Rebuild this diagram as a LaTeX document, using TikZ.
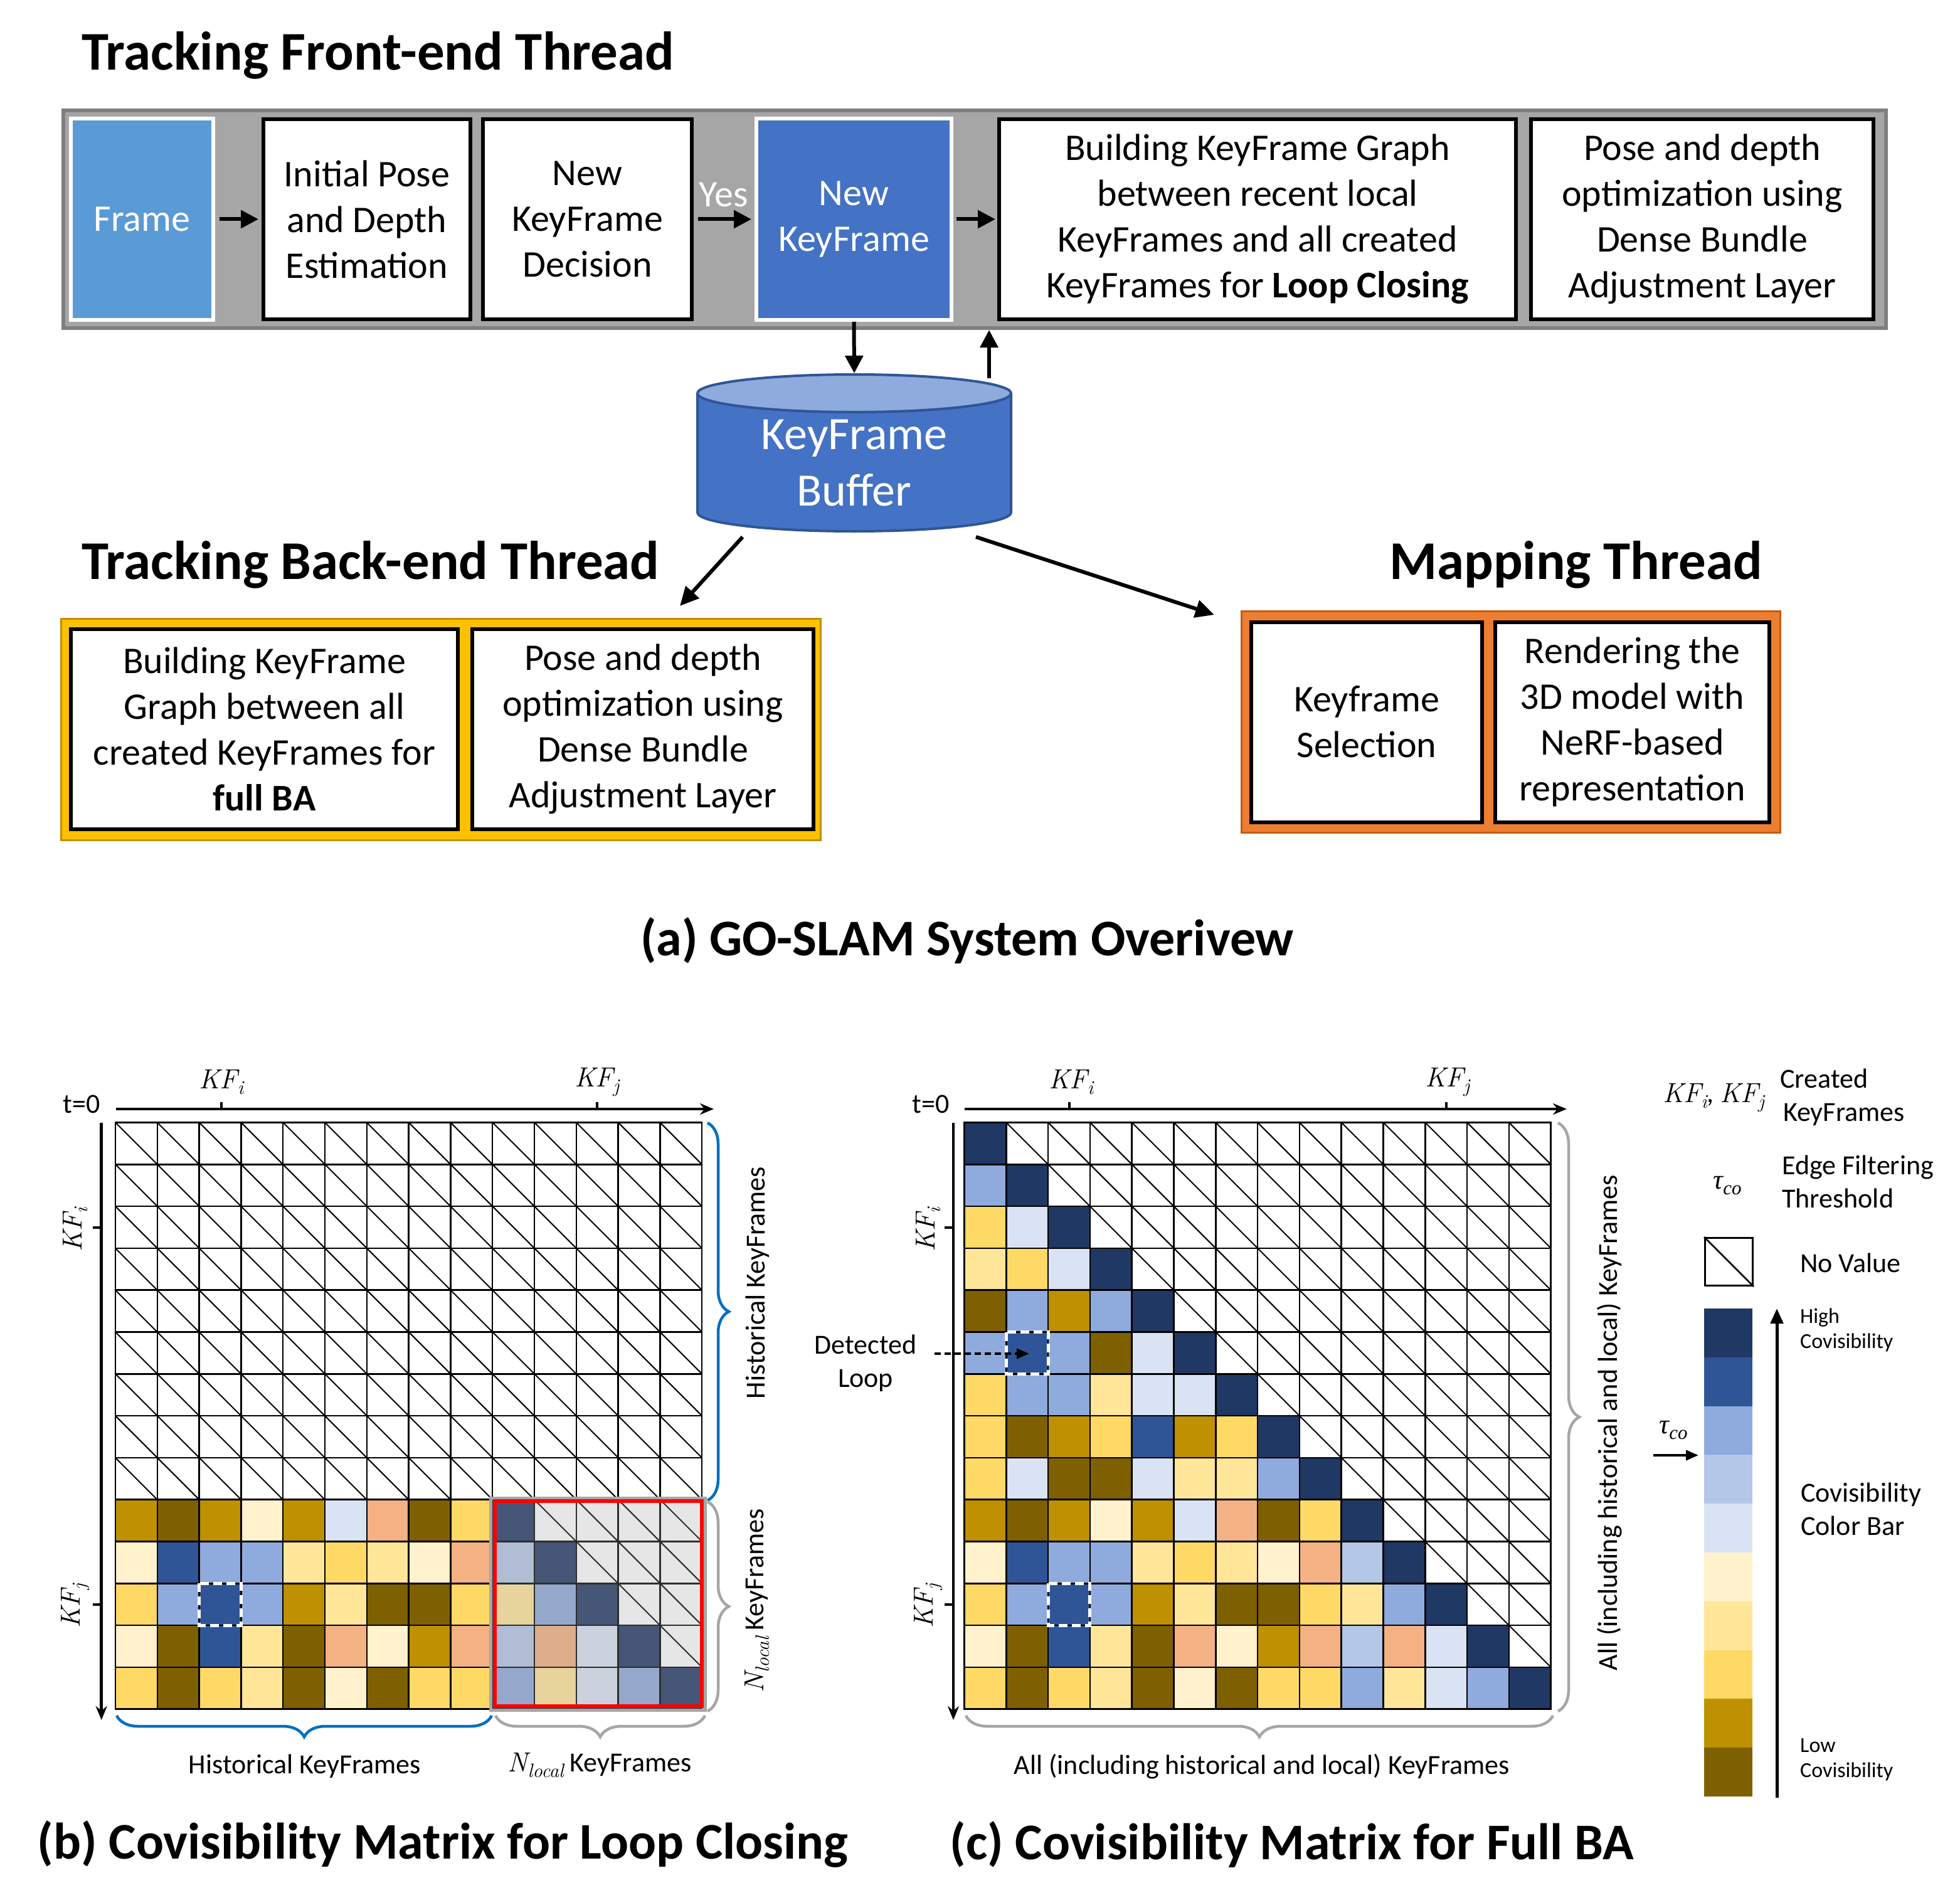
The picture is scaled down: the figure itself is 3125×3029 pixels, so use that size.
\documentclass[tikz,border=0pt]{standalone}
\usepackage{fontspec}
\setmainfont{Carlito}
\newfontfamily\lmfam{Latin Modern Roman}
\newfontfamily\grfam{Liberation Serif}
\newcommand\mysub[1]{\raisebox{-0.22em}{\fontsize{31}{31}\selectfont #1}}
\newcommand\kfi{{\lmfam\itshape KF\mysub{i}}}
\newcommand\kfj{{\lmfam\itshape KF\mysub{j}}}
\newcommand\nloc{{\lmfam\itshape N\mysub{local}}}
\newcommand\tauco{{\grfam\itshape τ\mysub{co}}}
\usetikzlibrary{arrows.meta,decorations.pathreplacing}

\definecolor{cN}{HTML}{203864}
\definecolor{cB}{HTML}{2F5597}
\definecolor{cM}{HTML}{8FAADC}
\definecolor{cS}{HTML}{B4C7E7}
\definecolor{cV}{HTML}{DAE3F3}
\definecolor{cW}{HTML}{FFF2CC}
\definecolor{cL}{HTML}{FFE699}
\definecolor{cY}{HTML}{FFD966}
\definecolor{cG}{HTML}{BF9000}
\definecolor{cD}{HTML}{7F6000}
\definecolor{cO}{HTML}{F4B183}
\definecolor{cX}{HTML}{FFFFFF}
\definecolor{bandgray}{HTML}{A6A6A6}
\definecolor{bandedge}{HTML}{7F7F7F}
\definecolor{framefill}{HTML}{5B9BD5}
\definecolor{kffill}{HTML}{4472C4}
\definecolor{cyltop}{HTML}{8FAADC}
\definecolor{cyledge}{HTML}{2F5597}
\definecolor{yelfr}{HTML}{FFC000}
\definecolor{yeledge}{HTML}{BF9000}
\definecolor{orfr}{HTML}{ED7D31}
\definecolor{oredge}{HTML}{C55A11}
\definecolor{braceblue}{HTML}{0070C0}
\definecolor{bracegray}{HTML}{A6A6A6}
\definecolor{laygray}{HTML}{A6A6A6}

\tikzset{
  boxtext/.style={font=\fontsize{60}{73}\selectfont},
  box/.style={draw=black, line width=6pt, fill=white, align=center, inner sep=0pt, boxtext},
  bluebox/.style={draw=white, line width=6pt, align=center, inner sep=0pt, text=white, boxtext},
  titletext/.style={font=\fontsize{82}{98}\selectfont\bfseries, inner sep=0pt},
  threadtitle/.style={font=\fontsize{87}{104}\selectfont\bfseries, inner sep=0pt},
  flow/.style={line width=6pt, -{Triangle[length=28pt,width=28pt]}},
  diagarrow/.style={line width=6pt, -{Triangle[length=30pt,width=28pt]}},
  lbl/.style={font=\fontsize{44}{53}\selectfont, inner sep=0pt},
  small/.style={font=\fontsize{34}{40}\selectfont, inner sep=0pt, align=left},
  gridln/.style={line width=2.5pt, line cap=rect},
  diagln/.style={line width=2pt},
  axisln/.style={line width=4.5pt, -{Stealth[length=22pt,width=18pt]}},
  tickln/.style={line width=4.5pt},
  dashsq/.style={draw=white, line width=5pt, dash pattern=on 14pt off 7pt},
  bracestyle/.style={decorate, decoration={brace, amplitude=34pt}, line width=4.5pt},
}

\begin{document}
\begin{tikzpicture}[x=1pt,y=-1pt]
\useasboundingbox (0,0) rectangle (3125,3029);
\fill[white] (0,0) rectangle (3125,3029);

% ---------------- (a) overview ----------------
\node[threadtitle, anchor=west] (t1) at (130,88) {Tracking Front-end Thread};

\node[draw=bandedge, fill=bandgray, line width=6pt, minimum width=2906, minimum height=347, inner sep=0pt] (band) at (1554,349.5) {};

\node[bluebox, fill=framefill, minimum width=227, minimum height=321] (frame) at (226.5,349.5) {Frame};
\node[box, minimum width=330, minimum height=319] (init) at (585,349.5) {Initial Pose\\and Depth\\Estimation};
\node[box, minimum width=333, minimum height=319] (dec) at (936.5,349.5) {New\\KeyFrame\\Decision};
\node[bluebox, fill=kffill, minimum width=311, minimum height=321] (newkf) at (1361.5,349.5) {New\\KeyFrame};
\node[box, minimum width=824, minimum height=319] (graph) at (2005,349.5) {Building KeyFrame Graph\\between recent local\\KeyFrames and all created\\KeyFrames for \textbf{Loop Closing}};
\node[box, minimum width=546, minimum height=319] (pba) at (2714,349.5) {Pose and depth\\optimization using\\Dense Bundle\\Adjustment Layer};

\draw[flow, shorten <=7pt, shorten >=5pt] (frame.east) -- (init.west);
\draw[flow, shorten <=7pt, shorten >=5pt] (dec.east) -- (newkf.west);
\node[boxtext, text=white, inner sep=0pt] (yes) at (1154,310) {Yes};
\draw[flow, shorten <=5pt, shorten >=3pt] (newkf.east) -- (graph.west);

% cylinder
\fill[kffill] (1112,627) -- (1112,817) arc[start angle=180, end angle=0, x radius=250, y radius=30] -- (1612,627) -- cycle;
\draw[cyledge, line width=4pt] (1112,627) -- (1112,817) arc[start angle=180, end angle=0, x radius=250, y radius=30] -- (1612,627);
\draw[cyledge, line width=4pt, fill=cyltop] (1362,627) ellipse[x radius=250, y radius=30];
\node[minimum width=500, minimum height=250, inner sep=0pt, outer sep=0pt] (buf) at (1362,722) {};
\node[font=\fontsize{74}{90}\selectfont, text=white, align=center, inner sep=0pt] (buftext) at (1362,738) {KeyFrame\\Buffer};

\draw[flow, shorten >=2pt] (newkf.south) -- (buf.north);
\draw[flow] ([xshift=215pt,yshift=-6pt]buf.north) -- ([xshift=215pt]buf.north |- band.south);

\node[threadtitle, anchor=west] (t2) at (130,900) {Tracking Back-end Thread};
\node[threadtitle, anchor=east] (t3) at (2810,900) {Mapping Thread};

\coordinate (backin) at (1084,966);
\coordinate (mapin) at (1936,980);
\draw[diagarrow] ([shift={(-178pt,-9pt)}]buf.south) -- (backin);
\draw[diagarrow] ([shift={(194pt,-9pt)}]buf.south) -- (mapin);

\node[draw=yeledge, fill=yelfr, line width=3pt, minimum width=1211, minimum height=353, inner sep=0pt] (back) at (703,1163) {};
\node[box, minimum width=617, minimum height=319] (fullg) at (421.5,1162.5) {Building KeyFrame\\Graph between all\\created KeyFrames for\\\textbf{full BA}};
\node[box, minimum width=544, minimum height=319] (bba) at (1025,1162.5) {Pose and depth\\optimization using\\Dense Bundle\\Adjustment Layer};

\node[draw=oredge, fill=orfr, line width=3pt, minimum width=859, minimum height=353, inner sep=0pt] (map) at (2409,1151) {};
\node[box, minimum width=368, minimum height=319] (ksel) at (2179,1151) {Keyframe\\Selection};
\node[box, minimum width=437, minimum height=319] (rend) at (2602.5,1151) {Rendering the\\3D model with\\NeRF-based\\representation};

\node[titletext] (capa) at (1542,1500) {(a) GO-SLAM System Overivew};

% ---------------- (b) matrix ----------------
\def\csz{66.8}
\def\ox{184}\def\oy{1789.5}
\foreach \rowlist [count=\rw] in {
{X,X,X,X,X,X,X,X,X,X,X,X,X,X},
{X,X,X,X,X,X,X,X,X,X,X,X,X,X},
{X,X,X,X,X,X,X,X,X,X,X,X,X,X},
{X,X,X,X,X,X,X,X,X,X,X,X,X,X},
{X,X,X,X,X,X,X,X,X,X,X,X,X,X},
{X,X,X,X,X,X,X,X,X,X,X,X,X,X},
{X,X,X,X,X,X,X,X,X,X,X,X,X,X},
{X,X,X,X,X,X,X,X,X,X,X,X,X,X},
{X,X,X,X,X,X,X,X,X,X,X,X,X,X},
{G,D,G,W,G,V,O,D,Y,N,X,X,X,X},
{W,B,M,M,L,Y,L,W,O,S,N,X,X,X},
{Y,M,B,M,G,L,D,D,Y,L,M,N,X,X},
{W,D,B,L,D,O,W,G,O,S,O,V,N,X},
{Y,D,Y,L,D,W,D,Y,Y,M,L,V,M,N}}{
  \foreach \code [count=\cc] in \rowlist {
    \fill[fill=c\code] ({\ox+(\cc-1)*\csz},{\oy+(\rw-1)*\csz}) rectangle ++(\csz,\csz);
  }
}
\foreach \rw in {1,...,9} {
  \foreach \cc in {1,...,14} {
    \draw[diagln] ({\ox+(\cc-1)*\csz},{\oy+(\rw-1)*\csz}) -- ++(\csz,\csz);
  }
}
\foreach \rw in {10,...,13} {
  \pgfmathtruncatemacro\rr{\rw+1}
  \foreach \cc in {\rr,...,14} {
    \draw[diagln] ({\ox+(\cc-1)*\csz},{\oy+(\rw-1)*\csz}) -- ++(\csz,\csz);
  }
}
\foreach \i in {0,...,14} {
  \draw[gridln] ({\ox+\i*\csz},\oy) -- ({\ox+\i*\csz},{\oy+14*\csz});
  \draw[gridln] (\ox,{\oy+\i*\csz}) -- ({\ox+14*\csz},{\oy+\i*\csz});
}
\fill[fill=laygray, opacity=0.28] ({\ox+9*\csz},{\oy+9*\csz}) rectangle ({\ox+14*\csz},{\oy+14*\csz});
\draw[laygray, line width=5pt] (782,2388) rectangle (1124,2726);
\draw[red, line width=6pt] (789,2393) rectangle (1119,2720);
\draw[dashsq] ({\ox+2*\csz},{\oy+11*\csz}) rectangle ++(\csz,\csz);

% axes b
\coordinate (bx0) at (185,1768);
\coordinate (bx1) at (1138,1768);
\coordinate (by0) at (161.7,1790);
\coordinate (by1) at (161.7,2742);
\draw[axisln] (bx0) -- (bx1);
\draw[axisln] (by0) -- (by1);
\draw[tickln] (353,1768) -- (353,1757);
\draw[tickln] (952,1768) -- (952,1757);
\draw[tickln] (161.7,1957) -- (148,1957);
\draw[tickln] (161.7,2558) -- (148,2558);
\node[lbl, anchor=east] (bt0) at (160,1760) {t=0};
\node[lbl] (bkfi) at (353,1725) {\kfi};
\node[lbl] (bkfj) at (952,1725) {\kfj};
\node[lbl, rotate=90] (bkfi2) at (120,1960) {\kfi};
\node[lbl, rotate=90] (bkfj2) at (120,2560) {\kfj};

\draw[bracestyle, braceblue] (1128,1790) -- (1128,2392);
\draw[bracestyle, bracegray] (1128,2394) -- (1128,2728);
\draw[bracestyle, braceblue] (784,2735) -- (186,2735);
\draw[bracestyle, bracegray] (1124,2735) -- (790,2735);
\node[lbl, rotate=90] (bhist) at (1208,2045) {Historical KeyFrames};
\node[lbl, rotate=90] (bloc) at (1207,2552) {\nloc{} KeyFrames};
\node[lbl] (bhist2) at (486,2816) {Historical KeyFrames};
\node[lbl] (bloc2) at (956,2814) {\nloc{} KeyFrames};

\node[titletext] (capb) at (706,2940) {(b) Covisibility Matrix for Loop Closing};

% ---------------- (c) matrix ----------------
\def\ox{1537.5}\def\oy{1789.5}
\foreach \rowlist [count=\rw] in {
{N,X,X,X,X,X,X,X,X,X,X,X,X,X},
{M,N,X,X,X,X,X,X,X,X,X,X,X,X},
{Y,V,N,X,X,X,X,X,X,X,X,X,X,X},
{L,Y,V,N,X,X,X,X,X,X,X,X,X,X},
{D,M,G,M,N,X,X,X,X,X,X,X,X,X},
{M,B,M,D,V,N,X,X,X,X,X,X,X,X},
{Y,M,M,L,V,V,N,X,X,X,X,X,X,X},
{Y,D,G,Y,B,G,Y,N,X,X,X,X,X,X},
{Y,V,D,D,V,L,L,M,N,X,X,X,X,X},
{G,D,G,W,G,V,O,D,Y,N,X,X,X,X},
{W,B,M,M,L,Y,L,W,O,S,N,X,X,X},
{Y,M,B,M,G,L,D,D,Y,L,M,N,X,X},
{W,D,B,L,D,O,W,G,O,S,O,V,N,X},
{Y,D,Y,L,D,W,D,Y,Y,M,L,V,M,N}}{
  \foreach \code [count=\cc] in \rowlist {
    \fill[fill=c\code] ({\ox+(\cc-1)*\csz},{\oy+(\rw-1)*\csz}) rectangle ++(\csz,\csz);
  }
}
\foreach \rw in {1,...,13} {
  \pgfmathtruncatemacro\rr{\rw+1}
  \foreach \cc in {\rr,...,14} {
    \draw[diagln] ({\ox+(\cc-1)*\csz},{\oy+(\rw-1)*\csz}) -- ++(\csz,\csz);
  }
}
\foreach \i in {0,...,14} {
  \draw[gridln] ({\ox+\i*\csz},\oy) -- ({\ox+\i*\csz},{\oy+14*\csz});
  \draw[gridln] (\ox,{\oy+\i*\csz}) -- ({\ox+14*\csz},{\oy+\i*\csz});
}
\draw[dashsq] ({\ox+1*\csz},{\oy+5*\csz}) rectangle ++(\csz,\csz);
\draw[dashsq] ({\ox+2*\csz},{\oy+11*\csz}) rectangle ++(\csz,\csz);

\coordinate (cx0) at (1538,1768);
\coordinate (cx1) at (2498,1768);
\coordinate (cy0) at (1520,1790);
\coordinate (cy1) at (1520,2742);
\draw[axisln] (cx0) -- (cx1);
\draw[axisln] (cy0) -- (cy1);
\draw[tickln] (1705,1768) -- (1705,1757);
\draw[tickln] (2306,1768) -- (2306,1757);
\draw[tickln] (1520,1957) -- (1506,1957);
\draw[tickln] (1520,2558) -- (1506,2558);
\node[lbl, anchor=east] (ct0) at (1514,1760) {t=0};
\node[lbl] (ckfi) at (1708,1725) {\kfi};
\node[lbl] (ckfj) at (2308,1725) {\kfj};
\node[lbl, rotate=90] (ckfi2) at (1480,1960) {\kfi};
\node[lbl, rotate=90] (ckfj2) at (1480,2560) {\kfj};

\node[lbl, align=center] (dloop) at (1380,2173) {Detected\\Loop};
\coordinate (loopstart) at (1490,2158);
\coordinate (loopcell) at (1641,2158);
\draw[line width=4pt, dash pattern=on 10pt off 6pt, -{Triangle[length=20pt,width=16pt]}] (loopstart) -- (loopcell);

\draw[bracestyle, bracegray] (2484,1790) -- (2484,2728);
\draw[bracestyle, bracegray] (2476,2735) -- (1540,2735);
\node[lbl, rotate=90] (call) at (2566,2268) {All (including historical and local) KeyFrames};
\node[lbl] (call2) at (2012,2816) {All (including historical and local) KeyFrames};

\node[titletext] (capc) at (2060,2940) {(c) Covisibility Matrix for Full BA};

% ---------------- legend ----------------
\node[lbl] (lkf) at (2732,1750) {\kfi, \kfj};
\node[lbl, align=left, anchor=west] (lcreated) at (2838,1749) {Created\\\hspace*{5pt}KeyFrames};
\node[lbl] (ltau) at (2754,1890) {\tauco};
\node[lbl, align=left, anchor=west] (ledge) at (2841,1884) {Edge Filtering\\Threshold};
\node[draw=black, line width=3pt, minimum width=76, minimum height=76, inner sep=0pt] (lnv) at (2756.5,2011.5) {};
\draw[line width=2.5pt] (lnv.north west) -- (lnv.south east);
\node[lbl, anchor=west] (lnvt) at (2870,2013) {No Value};
\foreach \code [count=\k] in {N,B,M,S,V,W,L,Y,G,D} {
  \fill[fill=c\code] (2717,{2086+(\k-1)*77.8}) rectangle (2794,{2086+\k*77.8});
}
\coordinate (barlo) at (2833,2866);
\coordinate (barhi) at (2833,2086);
\draw[line width=5pt, -{Triangle[length=24pt,width=20pt]}] (barlo) -- (barhi);
\node[small, anchor=west] (lhigh) at (2870,2120) {High\\Covisibility};
\node[lbl, align=left, anchor=west] (lbar) at (2871,2406) {Covisibility\\Color Bar};
\node[small, anchor=west] (llow) at (2870,2805) {Low\\Covisibility};
\node[lbl] (ltau2) at (2668,2280) {\tauco};
\coordinate (tauA) at (2636,2320);
\coordinate (tauB) at (2708,2320);
\draw[line width=4pt, -{Triangle[length=20pt,width=16pt]}] (tauA) -- (tauB);
\end{tikzpicture}
\end{document}
